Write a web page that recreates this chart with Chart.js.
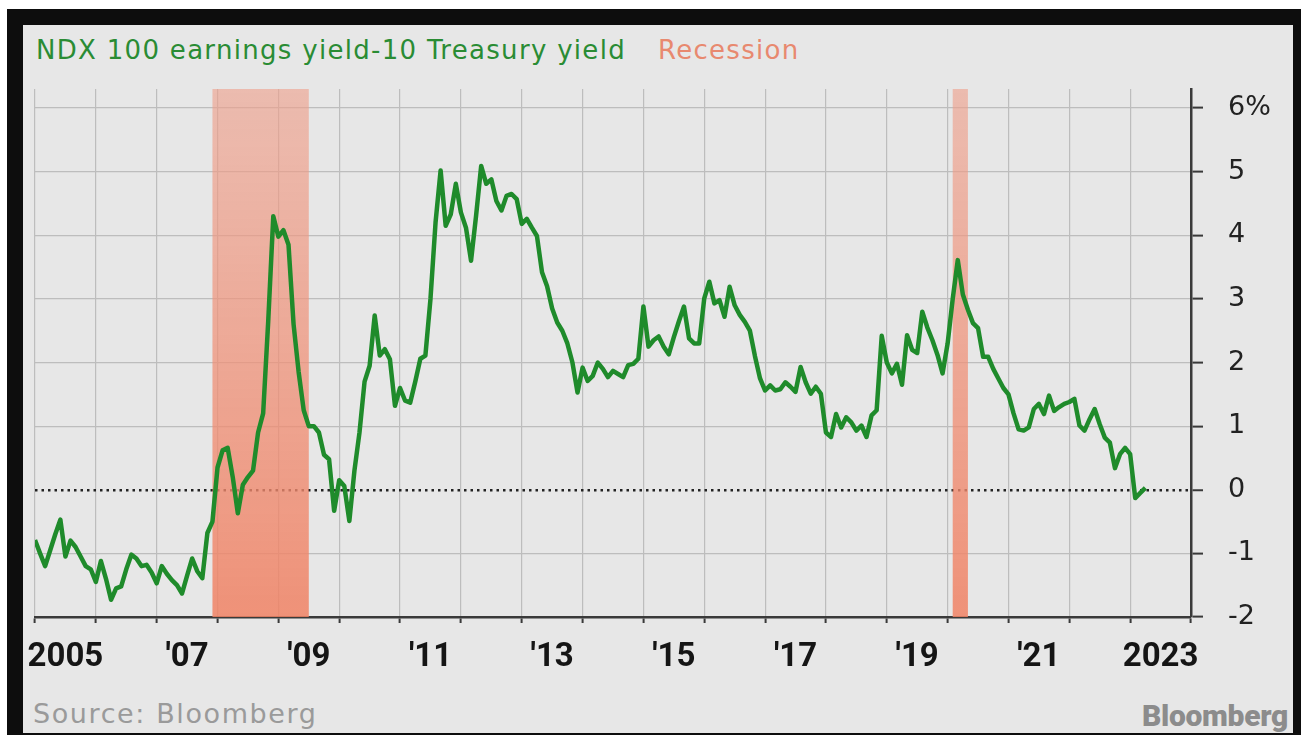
<!DOCTYPE html>
<html>
<head>
<meta charset="utf-8">
<title>NDX 100 earnings yield-10 Treasury yield</title>
<script src="https://cdn.jsdelivr.net/npm/chart.js/dist/chart.umd.min.js"></script>
<style>
  html, body { margin: 0; padding: 0; background: #ffffff; }
  body { width: 1301px; height: 735px; position: relative; overflow: hidden; }
  #frame { position: absolute; left: 7px; top: 9px; right: 0; bottom: 0; background: #0d0d0d; }
  #panel { position: absolute; left: 23px; top: 25px; width: 1270px; height: 708px; background: #e7e7e7; }
  #chart { position: absolute; left: 0; top: 0; }
  .txt { position: absolute; white-space: nowrap; line-height: 1; }
  #title { left: 36px; top: 35px; font: 26px "DejaVu Sans", sans-serif; color: #2a8c34; letter-spacing: 1.3px; }
  #title .rec { color: #e8896f; margin-left: 32px; }
  #source { left: 33px; top: 698px; font: 27px "DejaVu Sans", sans-serif; color: #9a9a9a; letter-spacing: 1.6px; }
  #logo { right: 13px; top: 698px; font: 900 30px Roboto, sans-serif; color: #8c8c8c; letter-spacing: -0.3px; }
</style>
</head>
<body>
<div id="frame"></div>
<div id="panel"></div>
<div class="txt" id="title">NDX 100 earnings yield-10 Treasury yield<span class="rec">Recession</span></div>
<div class="txt" id="source">Source: Bloomberg</div>
<div class="txt" id="logo">Bloomberg</div>
<canvas id="chart" width="1301" height="735"></canvas>

<script>
// monthly spread, Jan 2005 onwards (percentage points)
const startYear = 2005;
const spread = [
  -0.79, -1.00, -1.20, -0.95, -0.70, -0.47, -1.05, -0.80, -0.90, -1.05, -1.20, -1.25,
  -1.45, -1.12, -1.40, -1.73, -1.55, -1.52, -1.25, -1.02, -1.08, -1.20, -1.18, -1.30,
  -1.47, -1.20, -1.32, -1.42, -1.50, -1.63, -1.35, -1.08, -1.28, -1.39, -0.68, -0.50,
   0.35,  0.62,  0.66,  0.20, -0.37,  0.08,  0.20,  0.30,  0.90,  1.20,  2.65,  4.30,
   3.98,  4.08,  3.85,  2.60,  1.85,  1.25,  1.00,  1.00,  0.90,  0.55,  0.48, -0.33,
   0.15,  0.06, -0.49,  0.30,  0.90,  1.70,  1.95,  2.74,  2.11,  2.21,  2.05,  1.32,
   1.60,  1.40,  1.37,  1.70,  2.06,  2.11,  3.00,  4.20,  5.02,  4.15,  4.33,  4.81,
   4.36,  4.12,  3.60,  4.31,  5.09,  4.81,  4.88,  4.54,  4.39,  4.62,  4.65,  4.57,
   4.18,  4.26,  4.12,  3.99,  3.42,  3.20,  2.85,  2.63,  2.50,  2.30,  2.00,  1.53,
   1.92,  1.71,  1.79,  2.00,  1.90,  1.77,  1.87,  1.82,  1.77,  1.96,  1.98,  2.06,
   2.88,  2.25,  2.35,  2.41,  2.25,  2.13,  2.40,  2.65,  2.88,  2.38,  2.30,  2.30,
   3.01,  3.27,  2.93,  2.98,  2.72,  3.19,  2.90,  2.75,  2.64,  2.50,  2.10,  1.75,
   1.56,  1.64,  1.56,  1.58,  1.69,  1.62,  1.54,  1.93,  1.69,  1.51,  1.62,  1.51,
   0.90,  0.83,  1.19,  0.98,  1.14,  1.06,  0.93,  1.01,  0.83,  1.17,  1.25,  2.42,
   2.00,  1.83,  1.98,  1.65,  2.43,  2.20,  2.15,  2.80,  2.55,  2.35,  2.12,  1.83,
   2.30,  3.00,  3.61,  3.07,  2.83,  2.62,  2.54,  2.09,  2.09,  1.90,  1.75,  1.60,
   1.50,  1.20,  0.95,  0.93,  0.98,  1.27,  1.35,  1.19,  1.48,  1.24,  1.30,  1.35,
   1.38,  1.43,  1.01,  0.93,  1.11,  1.27,  1.03,  0.82,  0.74,  0.34,  0.56,  0.66,
   0.56, -0.13, -0.05,  0.03
];

const yearLabels = ['2005', "'07", "'09", "'11", "'13", "'15", "'17", "'19", "'21", '2023'];
const yTicks = [-2, -1, 0, 1, 2, 3, 4, 5, 6];
// recession periods as [first month, last month]
const recessions = [['2007-12', '2009-06'], ['2020-02', '2020-04']];

function monthIndex(s) {
  const [y, m] = s.split('-').map(Number);
  return (y - startYear) * 12 + (m - 1);
}

const recessionBands = {
  id: 'recessionBands',
  beforeDatasetsDraw(chart) {
    const { ctx, chartArea, scales } = chart;
    const grad = ctx.createLinearGradient(0, chartArea.top, 0, chartArea.bottom);
    grad.addColorStop(0, 'rgba(238, 160, 140, 0.62)');
    grad.addColorStop(1, 'rgba(240, 130, 100, 0.85)');
    ctx.save();
    ctx.fillStyle = grad;
    recessions.forEach(([a, b]) => {
      const x0 = scales.x.getPixelForValue(monthIndex(a));
      const x1 = scales.x.getPixelForValue(monthIndex(b) + 1);
      ctx.fillRect(x0, chartArea.top, x1 - x0, chartArea.bottom - chartArea.top);
    });
    ctx.restore();
  }
};

const totalMonths = (yearLabels.length * 2 - 1) * 12; // through end of 2023

new Chart(document.getElementById('chart'), {
  type: 'line',
  data: {
    datasets: [{
      data: spread.map((v, i) => ({ x: i, y: v })),
      borderColor: '#1f8b2b',
      borderWidth: 4.5,
      pointRadius: 0,
      tension: 0,
      borderJoinStyle: 'round'
    }]
  },
  options: {
    responsive: false,
    animation: false,
    devicePixelRatio: 1,
    layout: { padding: { left: 35, top: 89, right: 0, bottom: 0 } },
    plugins: { legend: { display: false }, tooltip: { enabled: false } },
    scales: {
      x: {
        type: 'linear',
        min: 0,
        max: totalMonths,
        afterBuildTicks(scale) {
          const t = [];
          for (let v = 0; v <= totalMonths; v += 6) t.push({ value: v });
          scale.ticks = t;
        },
        afterFit(scale) { scale.height = 118; },
        grid: {
          color: c => (c.tick && c.tick.value % 12 === 0) ? '#bdbdbd' : 'rgba(0,0,0,0)',
          tickColor: c => (c.tick && c.tick.value % 12 === 0) ? '#3a3a3a' : 'rgba(0,0,0,0)',
          lineWidth: 1.2,
          tickWidth: 2,
          tickLength: 6
        },
        border: { display: true, color: '#3a3a3a', width: 2.5 },
        ticks: {
          autoSkip: false,
          maxRotation: 0,
          padding: 15,
          color: '#151515',
          font: { family: 'Roboto', size: 33, weight: 'bold' },
          callback: v => (v % 24 === 6) ? yearLabels[(v - 6) / 24] : ''
        }
      },
      y: {
        position: 'right',
        min: -2,
        max: 6.3,
        afterBuildTicks(scale) { scale.ticks = yTicks.map(v => ({ value: v })); },
        afterFit(scale) { scale.width = 110; },
        grid: {
          color: c => (c.tick && c.tick.value === 0) ? '#222222' : '#bdbdbd',
          lineWidth: c => (c.tick && c.tick.value === 0) ? 2.5 : 1.2,
          tickColor: '#3a3a3a',
          tickWidth: 2,
          tickLength: 12
        },
        border: {
          display: true,
          color: '#3a3a3a',
          width: 2.5,
          dash: c => (c.tick && c.tick.value === 0) ? [2.5, 4] : []
        },
        ticks: {
          padding: 25,
          color: '#222222',
          font: { family: 'DejaVu Sans', size: 27 },
          callback: v => v === 6 ? '6%' : String(v)
        }
      }
    }
  },
  plugins: [recessionBands]
});
</script>
</body>
</html>
